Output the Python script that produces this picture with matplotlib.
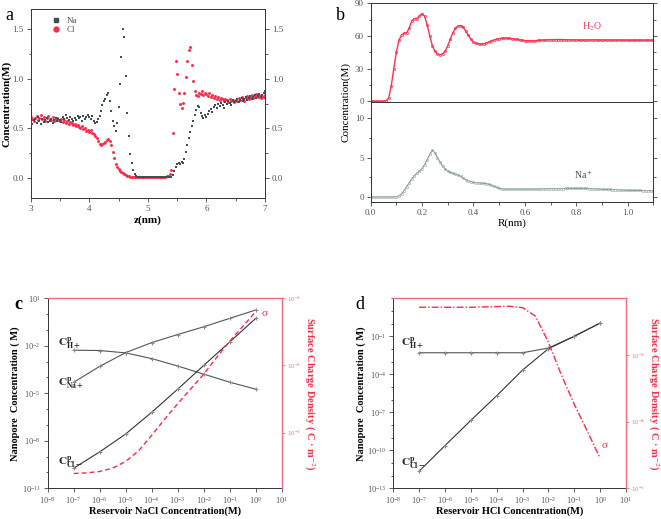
"""Four-panel figure: ion density profiles (a, b) and nanopore concentrations (c, d)."""

import numpy as np
import matplotlib
matplotlib.use("Agg")
import matplotlib.pyplot as plt
from matplotlib.lines import Line2D
from matplotlib.ticker import MultipleLocator, NullFormatter, NullLocator

plt.rcParams["font.family"] = ["Liberation Serif", "DejaVu Serif"]
plt.rcParams["mathtext.fontset"] = "stix"

# ── panel a: density along z ────────────────────────────────────────────────
z_nm = np.round(np.arange(161) * 0.025 + 3.0, 3)
na_a = [0.57, 0.55, 0.59, 0.60, 0.56, 0.62, 0.58, 0.55, 0.60, 0.57,
        0.59, 0.61, 0.57, 0.58, 0.60, 0.56, 0.59, 0.61, 0.58, 0.60,
        0.59, 0.57, 0.62, 0.60, 0.64, 0.61, 0.59, 0.62, 0.60, 0.58,
        0.61, 0.59, 0.63, 0.61, 0.62, 0.58, 0.63, 0.60, 0.62, 0.64,
        0.62, 0.60, 0.63, 0.58, 0.56, 0.57, 0.60, 0.63, 0.68, 0.74,
        0.78, 0.80, 0.84, 0.86, 0.78, 0.68, 0.58, 0.52, 0.47, 0.56,
        0.72, 0.95, 1.22, 1.50, 1.42, 1.03, 0.66, 0.42, 0.24, 0.15,
        0.08, 0.04, 0.02, 0.015, 0.01, 0.01, 0.01, 0.01, 0.01, 0.01,
        0.01, 0.01, 0.01, 0.01, 0.01, 0.01, 0.01, 0.01, 0.01, 0.01,
        0.01, 0.01, 0.01, 0.01, 0.01, 0.01, 0.01, 0.03, 0.07, 0.11,
        0.14, 0.15, 0.14, 0.16, 0.15, 0.19, 0.26, 0.33, 0.40, 0.46,
        0.52, 0.58, 0.64, 0.69, 0.73, 0.72, 0.66, 0.63, 0.61, 0.64,
        0.62, 0.65, 0.68, 0.70, 0.67, 0.72, 0.74, 0.71, 0.75, 0.73,
        0.76, 0.74, 0.71, 0.77, 0.75, 0.78, 0.76, 0.74, 0.79, 0.77,
        0.78, 0.80, 0.77, 0.79, 0.81, 0.78, 0.80, 0.82, 0.79, 0.81,
        0.83, 0.80, 0.82, 0.84, 0.81, 0.83, 0.85, 0.82, 0.84, 0.86,
        0.88]
cl_a = [0.62, 0.60, 0.58, 0.61, 0.63, 0.59, 0.61, 0.64, 0.60, 0.62,
        0.58, 0.61, 0.63, 0.60, 0.59, 0.62, 0.58, 0.60, 0.61, 0.59,
        0.58, 0.60, 0.57, 0.59, 0.56, 0.58, 0.55, 0.57, 0.56, 0.54,
        0.55, 0.52, 0.54, 0.51, 0.50, 0.52, 0.49, 0.50, 0.47, 0.48,
        0.46, 0.48, 0.45, 0.44, 0.42, 0.40, 0.37, 0.34, 0.33, 0.34,
        0.35, 0.36, 0.38, 0.39, 0.37, 0.33, 0.26, 0.20, 0.14, 0.11,
        0.09, 0.07, 0.06, 0.05, 0.04, 0.03, 0.02, 0.02, 0.015, 0.01,
        0.01, 0.01, 0.01, 0.01, 0.01, 0.01, 0.01, 0.01, 0.01, 0.01,
        0.01, 0.01, 0.01, 0.01, 0.01, 0.01, 0.01, 0.01, 0.01, 0.01,
        0.01, 0.01, 0.01, 0.02, 0.02, 0.04, 0.08, 0.45, 0.90, 1.18,
        1.05, 0.86, 0.75, 0.71, 0.76, 0.86, 1.02, 1.18, 1.29, 1.32,
        1.14, 0.98, 0.88, 0.84, 0.83, 0.86, 0.85, 0.88, 0.84, 0.86,
        0.85, 0.83, 0.86, 0.82, 0.84, 0.81, 0.83, 0.80, 0.82, 0.79,
        0.81, 0.80, 0.78, 0.80, 0.79, 0.77, 0.80, 0.78, 0.79, 0.77,
        0.79, 0.78, 0.81, 0.79, 0.82, 0.80, 0.78, 0.81, 0.83, 0.80,
        0.82, 0.84, 0.81, 0.83, 0.85, 0.82, 0.84, 0.81, 0.83, 0.82,
        0.84]

# ── panel b: radial profiles ────────────────────────────────────────────────
r_nm = np.round(np.arange(111) * 0.01, 2)
h2o_b = [0, 0, 0, 0, 0, 0, 0.3, 3, 14, 30,
         45, 56, 61, 62.5, 63, 67, 74, 76, 76, 78.5,
         80.5, 78, 70, 60, 51, 46, 43.5, 42.7, 43.5, 46,
         51, 57, 63, 67, 69.3, 69.5, 68, 64.5, 60.5, 57,
         54.5, 53.2, 52.7, 52.6, 52.8, 53.5, 54.5, 55.5, 56.3, 57,
         57.5, 57.8, 58, 58, 57.8, 57.5, 57.2, 56.8, 56.4, 56,
         55.7, 55.5, 55.5, 55.5, 55.6, 55.8, 56, 56.2, 56.3, 56.4,
         56.5, 56.6, 56.6, 56.7, 56.7, 56.6, 56.5, 56.4, 56.3, 56.3,
         56.3, 56.2, 56.2, 56.2, 56.2, 56.3, 56.3, 56.3, 56.2, 56.2,
         56.2, 56.2, 56.2, 56.2, 56.2, 56.2, 56.2, 56.2, 56.1, 56.1,
         56.1, 56.1, 56.1, 56.1, 56.1, 56.1, 56.1, 56.1, 56.1, 56.0, 56.0]
na_b = [0, 0, 0, 0, 0, 0, 0, 0, 0, 0,
        0.05, 0.15, 0.4, 0.8, 1.3, 1.8, 2.3, 2.7, 3.0, 3.3,
        3.6, 4.1, 4.7, 5.4, 5.9, 5.6, 5.0, 4.4, 3.9, 3.5,
        3.3, 3.1, 3.0, 2.9, 2.8, 2.6, 2.4, 2.2, 2.05, 1.95,
        1.85, 1.8, 1.8, 1.75, 1.72, 1.7, 1.6, 1.5, 1.35, 1.2,
        1.1, 1.05, 1.0, 1.0, 1.0, 1.0, 1.0, 1.0, 1.0, 1.0,
        1.0, 1.0, 1.0, 1.0, 1.0, 1.0, 1.02, 1.04, 1.05, 1.05,
        1.05, 1.05, 1.05, 1.05, 1.06, 1.07, 1.08, 1.08, 1.08, 1.08,
        1.08, 1.08, 1.08, 1.08, 1.08, 1.07, 1.06, 1.04, 1.02, 1.0,
        0.98, 0.96, 0.95, 0.95, 0.94, 0.93, 0.92, 0.9, 0.88, 0.86,
        0.85, 0.84, 0.83, 0.83, 0.82, 0.82, 0.81, 0.81, 0.8, 0.8, 0.8]

# ── panels c, d: log10 of concentrations and surface charge ─────────────────
reservoir_exp = [-7, -6, -5, -4, -3, -2, -1, 0]
sigma_exp_x = [-7, -6.5, -6, -5.5, -5, -4.5, -4, -3.5, -3, -2.5, -2, -1.5, -1, -0.5, 0]

c_na = [-4.30, -3.30, -2.43, -1.80, -1.29, -0.80, -0.27, 0.26]
c_h = [-2.28, -2.30, -2.45, -2.81, -3.28, -3.79, -4.30, -4.74]
c_cl = [-9.73, -8.70, -7.57, -6.20, -4.74, -3.24, -1.76, -0.27]
c_sigma = [-3.61, -3.60, -3.58, -3.53, -3.43, -3.27, -3.04, -2.80,
           -2.57, -2.35, -2.13, -1.88, -1.64, -1.42, -1.20]

d_h = [-2.30, -2.30, -2.30, -2.30, -2.30, -1.93, -1.00, 0.04]
d_cl = [-11.65, -9.63, -7.64, -5.69, -3.67, -1.98, -1.00, 0.04]
d_sigma = [-2.285, -2.285, -2.285, -2.285, -2.285, -2.28, -2.275, -2.27,
           -2.29, -2.42, -2.81, -3.30, -3.74, -4.14, -4.55]

GRAY_TXT = "#555555"
NA_COL = "#3e5050"
CL_COL = "#ff2848"
RED = "#ff2a48"
SPINE_RED = "#f26c80"
LINE_COL = "#555555"
MARK_COL = "#8c8c8c"


def style_ticks(ax, size=6.5):
    ax.tick_params(which="both", labelsize=size, labelcolor=GRAY_TXT,
                   color="#444444", width=0.6, pad=2)
    ax.tick_params(which="major", length=3)
    ax.tick_params(which="minor", length=1.8)
    for s in ax.spines.values():
        s.set_linewidth(0.7)
        s.set_color("#333333")


fig = plt.figure(figsize=(6.61, 5.19), dpi=100)

# ── a ──────────────────────────────────────────────────────────────────────
ax_a = fig.add_axes([0.0464, 0.6185, 0.3545, 0.3636])
ax_a.scatter(z_nm, na_a, s=3.5, marker="s", color=NA_COL, linewidths=0, zorder=3)
ax_a.scatter(z_nm, cl_a, s=4.5, marker="o", color=CL_COL, linewidths=0, zorder=2)
ax_a.set_xlim(3, 7)
ax_a.set_ylim(-0.2, 1.7)
ax_a.xaxis.set_major_locator(MultipleLocator(1))
ax_a.xaxis.set_minor_locator(MultipleLocator(0.5))
ax_a.yaxis.set_major_locator(MultipleLocator(0.5))
ax_a.yaxis.set_minor_locator(MultipleLocator(0.25))
ax_a.yaxis.set_major_formatter(matplotlib.ticker.FormatStrFormatter("%.1f"))
ax_a.tick_params(which="both", right=True, labelright=True)
style_ticks(ax_a)
ax_a.set_xlabel("z(nm)", fontsize=8, fontweight="bold", labelpad=2)
ax_a.set_ylabel("Concentration(M)", fontsize=8, fontweight="bold", labelpad=1)
handles = [Line2D([], [], ls="none", marker="s", ms=3, color=NA_COL),
           Line2D([], [], ls="none", marker="o", ms=3.5, color=CL_COL)]
ax_a.legend(handles, ["Na", "Cl"], loc="upper left", bbox_to_anchor=(0.06, 0.99),
            frameon=False, fontsize=6.5, handletextpad=0.6, labelspacing=0.1,
            borderaxespad=0.2, handlelength=1.2, labelcolor=GRAY_TXT)
fig.text(0.008, 0.962, "a", fontsize=13)

# ── b ──────────────────────────────────────────────────────────────────────
ax_b1 = fig.add_axes([0.5608, 0.8029, 0.4275, 0.1908])
ax_b2 = fig.add_axes([0.5608, 0.6114, 0.4275, 0.1915], sharex=ax_b1)
ax_b1.plot(r_nm, h2o_b, color="#ff3050", lw=1.0, marker="o", ms=1.6,
           mfc="none", mew=0.5)
ax_b2.plot(r_nm, na_b, color="#6f8080", lw=0.7, marker="s", ms=1.8,
           mfc="none", mec="#a8b8b8", mew=0.5)
ax_b1.set_xlim(0, 1.1)
ax_b1.set_ylim(-1, 90)
ax_b2.set_ylim(-0.6, 12)
ax_b1.yaxis.set_major_locator(MultipleLocator(30))
ax_b1.yaxis.set_minor_locator(MultipleLocator(15))
ax_b2.yaxis.set_major_locator(MultipleLocator(5))
ax_b2.yaxis.set_minor_locator(MultipleLocator(2.5))
ax_b2.xaxis.set_major_locator(MultipleLocator(0.2))
ax_b2.xaxis.set_minor_locator(MultipleLocator(0.1))
ax_b2.xaxis.set_major_formatter(matplotlib.ticker.FormatStrFormatter("%.1f"))
for ax in (ax_b1, ax_b2):
    ax.tick_params(which="both", right=True)
    style_ticks(ax)
ax_b1.tick_params(which="both", bottom=False, labelbottom=False)
ax_b2.set_xlabel("R(nm)", fontsize=8, labelpad=1)
fig.text(0.523, 0.803, "Concentration(M)", fontsize=8, rotation=90,
         ha="center", va="center")
ax_b1.text(0.86, 63, "H$_2$O", fontsize=7, color="#ff3a5a", ha="center",
           va="bottom")
ax_b2.text(0.83, 2.0, "Na$^+$", fontsize=7, color="#3e4a4a", ha="center",
           va="bottom")
fig.text(0.508, 0.962, "b", fontsize=13)


# ── c and d ────────────────────────────────────────────────────────────────
def log_panel(rect, left_major, left_lim, right_major, right_lim, xlabel):
    ax = fig.add_axes(rect)
    ax.set_xscale("log")
    ax.set_yscale("log")
    ax.set_xlim(1e-8, 1e1)
    ax.set_ylim(*left_lim)
    ax.set_xticks([10.0 ** k for k in range(-8, 2)])
    ax.xaxis.set_minor_locator(NullLocator())
    ax.set_yticks([10.0 ** k for k in left_major])
    lo, hi = int(np.floor(np.log10(left_lim[0]))), int(np.ceil(np.log10(left_lim[1])))
    ax.set_yticks([10.0 ** k for k in range(lo, hi + 1) if k not in left_major],
                  minor=True)
    ax.yaxis.set_minor_formatter(NullFormatter())
    style_ticks(ax, size=6)
    ax.tick_params(axis="x", pad=1.5)
    ax.spines["top"].set_visible(False)
    ax.spines["right"].set_visible(False)
    ax.set_xlabel(xlabel, fontsize=7.5, fontweight="bold", labelpad=0.5)
    ax.set_ylabel("Nanopore  Concentration ( M)", fontsize=7.5,
                  fontweight="bold", labelpad=1)

    ax2 = ax.twinx()
    ax2.set_yscale("log")
    ax2.set_ylim(*right_lim)
    ax2.set_yticks([10.0 ** k for k in right_major])
    ax2.yaxis.set_minor_locator(NullLocator())
    ax2.tick_params(which="both", labelsize=5, labelcolor=SPINE_RED,
                    color=SPINE_RED, width=0.6, length=2.5, pad=1)
    for side in ("left", "bottom"):
        ax2.spines[side].set_visible(False)
    for side in ("right", "top"):
        ax2.spines[side].set_color(SPINE_RED)
        ax2.spines[side].set_linewidth(1.0)
    ax2.set_ylabel("Surface Charge Density ( C · m$^{-2}$)", fontsize=7.5,
                   fontweight="bold", color=RED, rotation=270, va="center")
    ax2.yaxis.set_label_coords(1.117, 0.5)
    return ax, ax2


def conc_line(ax, ys, color=LINE_COL):
    ax.plot([10.0 ** k for k in reservoir_exp], [10.0 ** k for k in ys],
            color=color, lw=0.8, marker="+", ms=3.5, mew=0.8, mec=MARK_COL)


def clabel(ax, x, y, sub):
    ax.text(x, y, r"$\mathbf{C}^{\mathbf{p}}_{\mathbf{" + sub + "}}$",
            fontsize=8, color="#222222", ha="left", va="center")


# c
ax_c, ax_c2 = log_panel([0.0722, 0.0592, 0.354, 0.3661], [1, -2, -5, -8, -11],
                        (1e-11, 1e1), [-1, -2, -3], (10 ** -3.83, 1e-1),
                        "Reservoir NaCl Concentration(M)")
conc_line(ax_c, c_na)
conc_line(ax_c, c_h)
conc_line(ax_c, c_cl, color="#333333")
ax_c2.plot([10.0 ** k for k in sigma_exp_x], [10.0 ** k for k in c_sigma],
           color=RED, lw=1.0, ls=(0, (3.5, 2.2)))
clabel(ax_c, 10 ** -7.6, 10 ** -1.84, "H+")
clabel(ax_c, 10 ** -7.6, 10 ** -4.38, "Na+")
clabel(ax_c, 10 ** -7.6, 10 ** -9.39, "Cl-")
ax_c2.text(10 ** 0.22, 10 ** -1.23, "σ", fontsize=8, color=RED, ha="left",
           va="center")
fig.text(0.022, 0.405, "c", fontsize=13, fontweight="bold")

# d
ax_d, ax_d2 = log_panel([0.595, 0.0592, 0.352, 0.3661], [-1, -4, -7, -10, -13],
                        (1e-13, 10 ** 1.05), [-3, -4, -5], (1e-5, 10 ** -2.15),
                        "Reservoir HCl Concentration(M)")
conc_line(ax_d, d_h)
conc_line(ax_d, d_cl, color="#333333")
ax_d2.plot([10.0 ** k for k in sigma_exp_x], [10.0 ** k for k in d_sigma],
           color=RED, lw=1.0, ls=(0, (5, 1.5, 1, 1.5)))
clabel(ax_d, 10 ** -7.71, 10 ** -1.54, "H+")
clabel(ax_d, 10 ** -7.71, 10 ** -11.1, "Cl-")
ax_d2.text(10 ** 0.07, 10 ** -4.36, "σ", fontsize=8, color=RED, ha="left",
           va="center")
fig.text(0.538, 0.405, "d", fontsize=13)

fig.savefig("out.png", dpi=100)
